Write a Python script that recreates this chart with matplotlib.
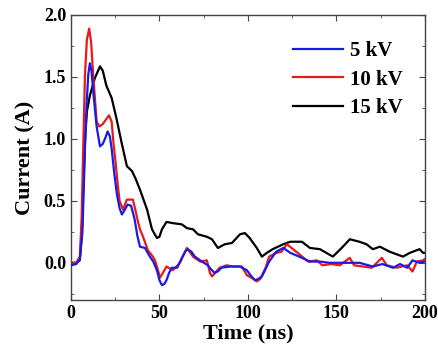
import numpy as np
import matplotlib.pyplot as plt
from matplotlib.ticker import MultipleLocator

# 5 kV
t5 = [0, 3, 5, 6.5, 7.9, 8.9, 9.8, 10.7, 11.6, 12.6, 14.5, 16.4, 18, 19.5, 20.7, 22,
      23, 24.5, 26, 27.5, 28.8, 30.5, 32, 34, 36, 37.5, 39, 41.8, 44.6, 46.5, 48.6,
      50, 51.4, 52.8, 54, 55.5, 57, 60, 62.7, 64.5, 66, 68, 70, 74, 77.4, 79, 81,
      83, 85, 90, 95.5, 99.4, 102, 104, 106, 107.9, 110, 112, 116, 120, 124, 129,
      135, 140.7, 146, 156, 163, 170.6, 176, 182, 186, 190, 193, 197, 200]
i5 = [-0.02, -0.01, 0.03, 0.25, 0.92, 1.30, 1.52, 1.61, 1.55, 1.38, 1.10, 0.94, 0.96,
      1.01, 1.06, 1.02, 0.92, 0.72, 0.55, 0.44, 0.39, 0.43, 0.47, 0.46, 0.35, 0.22,
      0.13, 0.12, 0.05, 0.01, -0.06, -0.14, -0.18, -0.17, -0.14, -0.08, -0.04,
      -0.04, 0.04, 0.09, 0.11, 0.09, 0.05, 0.01, -0.02, -0.05, -0.08, -0.07, -0.04,
      -0.03, -0.03, -0.06, -0.11, -0.14, -0.13, -0.11, -0.05, 0.01, 0.09, 0.12,
      0.08, 0.05, 0.01, 0.01, 0.0, 0.0, 0.0, -0.03, -0.01, -0.04, -0.01, -0.04,
      0.02, 0.0, 0.01]

# 10 kV
t10 = [0, 3, 5, 6, 7, 7.9, 9, 10.3, 11.4, 12.6, 14.5, 16, 18, 20, 21.5, 23, 24,
       25.3, 26.5, 27.5, 29.4, 30.5, 31.6, 35, 36.5, 37.9, 39, 41, 43.5, 45.8, 47.5,
       49, 50.3, 52, 54, 57.6, 61.6, 65.5, 69, 73, 76.8, 78.5, 79.7, 84, 88, 91.5,
       96.6, 99.4, 102, 105, 107, 110, 112, 116, 119, 122, 125.5, 129, 134, 139, 142,
       147, 152, 157.6, 160, 165, 170, 175.7, 178.5, 184, 190, 193, 195.5, 199, 200]
i10 = [0.0, 0.0, 0.05, 0.35, 0.97, 1.51, 1.8, 1.89, 1.78, 1.51, 1.14, 1.10, 1.12,
       1.16, 1.19, 1.14, 0.97, 0.8, 0.62, 0.5, 0.43, 0.47, 0.51, 0.51, 0.42, 0.33,
       0.27, 0.2, 0.1, 0.06, 0.02, -0.05, -0.12, -0.08, -0.03, -0.06, 0.0, 0.12,
       0.05, 0.01, 0.02, -0.08, -0.11, -0.04, -0.02, -0.03, -0.03, -0.1, -0.12,
       -0.15, -0.13, -0.04, 0.05, 0.08, 0.09, 0.15, 0.11, 0.07, 0.01, 0.02, -0.02,
       -0.01, -0.02, 0.04, -0.02, -0.03, -0.04, 0.04, -0.02, -0.04, -0.02, -0.07,
       0.01, 0.02, 0.03]

# 15 kV
t15 = [0, 3, 5, 6, 7, 8, 9, 10.7, 13.5, 16.4, 18, 20, 23, 25.8, 28.6, 29.4, 31.6,
       34.5, 36.5, 39, 43, 45.8, 48.6, 50, 51.4, 54, 57.6, 62.7, 65.5, 69, 71.8,
       76.8, 79.7, 83, 87, 91, 95.5, 98.3, 101, 105, 107.9, 110.7, 114, 120, 124,
       130.5, 135, 140.7, 148, 153, 157.6, 163, 167, 170.6, 174.6, 180, 187.6,
       191.5, 197, 199, 200]
i15 = [0.0, 0.0, 0.02, 0.2, 0.6, 1.0, 1.22, 1.35, 1.49, 1.585, 1.55, 1.43, 1.33,
       1.16, 0.97, 0.92, 0.78, 0.74, 0.68, 0.59, 0.43, 0.27, 0.2, 0.21, 0.27, 0.33,
       0.32, 0.31, 0.28, 0.27, 0.23, 0.21, 0.19, 0.12, 0.15, 0.16, 0.23, 0.24,
       0.2, 0.12, 0.05, 0.08, 0.11, 0.15, 0.17, 0.17, 0.12, 0.11, 0.05, 0.12, 0.19,
       0.17, 0.15, 0.11, 0.13, 0.09, 0.05, 0.08, 0.11, 0.08, 0.08]

plt.rcParams['font.family'] = 'Liberation Serif'
plt.rcParams['font.weight'] = 'bold'

fig = plt.figure(figsize=(4.38, 3.48), dpi=100)
ax = fig.add_axes([0.162, 0.138, 0.808, 0.819])

ax.plot(t5, i5, color='#1a1ae6', lw=1.6, label='5 kV', zorder=3)
ax.plot(t10, i10, color='#e61a1a', lw=1.6, label='10 kV', zorder=2)
ax.plot(t15, i15, color='black', lw=1.6, label='15 kV', zorder=1)

ax.set_xlim(0, 200)
ax.set_ylim(-0.3, 2.0)
ax.xaxis.set_major_locator(MultipleLocator(50))
ax.xaxis.set_minor_locator(MultipleLocator(25))
ax.yaxis.set_major_locator(MultipleLocator(0.5))
ax.yaxis.set_minor_locator(MultipleLocator(0.25))
ax.yaxis.set_major_formatter(plt.FormatStrFormatter('%.1f'))
ax.tick_params(which='both', direction='in', top=True, right=True, labelsize=13, color='#444')
ax.tick_params(which='major', length=4)
ax.tick_params(which='minor', length=2.5)
for s in ax.spines.values():
    s.set_color('#444')
    s.set_linewidth(1.0)

ax.set_xlabel('Time (ns)', fontsize=16, fontweight='bold', labelpad=1)
ax.set_ylabel('Current (A)', fontsize=16, fontweight='bold', labelpad=6)

ax.legend(loc='upper right', frameon=False, fontsize=15, handlelength=2.4,
          handletextpad=0.33, labelspacing=0.42, bbox_to_anchor=(0.99, 0.975))

fig.savefig('out.png', dpi=100)
